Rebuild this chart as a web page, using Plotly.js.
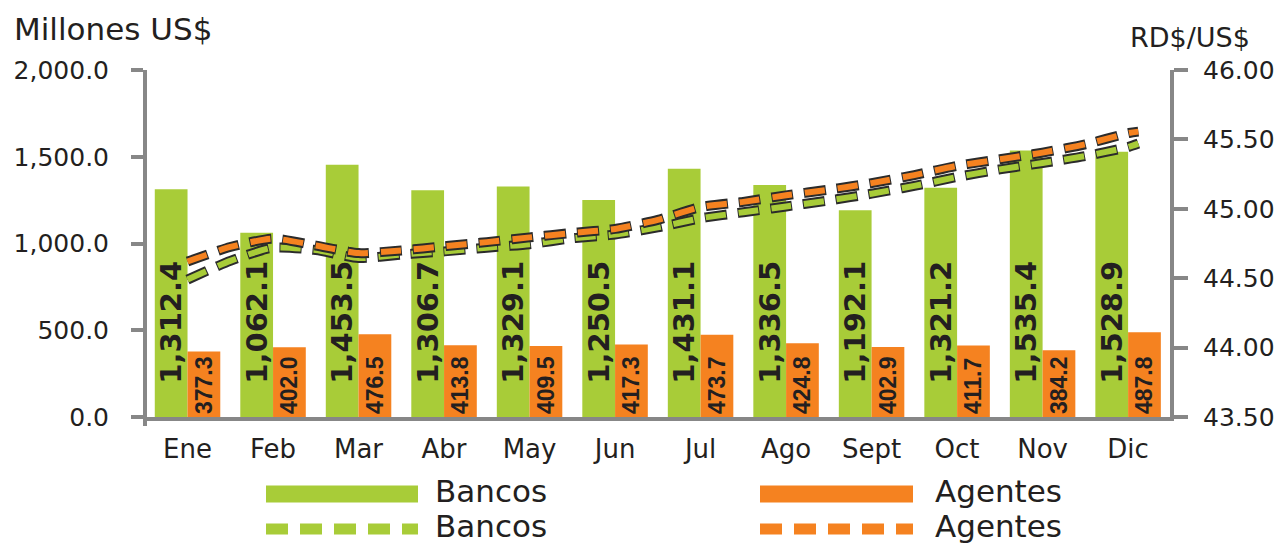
<!DOCTYPE html>
<html>
<head>
<meta charset="utf-8">
<script src="https://cdn.plot.ly/plotly-3.0.1.min.js"></script>
<style>html,body{margin:0;padding:0;background:#fff;}#chart{width:1288px;height:544px;}</style>
</head>
<body>
<div id="chart"></div>
<script>
// ---- data ----
const categories = ['Ene','Feb','Mar','Abr','May','Jun','Jul','Ago','Sept','Oct','Nov','Dic'];
const bancosMonto = [1312.4,1062.1,1453.5,1306.7,1329.1,1250.5,1431.1,1336.5,1192.1,1321.2,1535.4,1528.9];
const agentesMonto = [377.3,402.0,476.5,413.8,409.5,417.3,473.7,424.8,402.9,411.7,384.2,487.8];
// exchange rate (RD$/US$), read at half-month positions along the month axis
const tasaPos = [0,0.5,1,1.5,2,2.5,3,3.5,4,4.5,5,5.5,6,6.5,7,7.5,8,8.5,9,9.5,10,10.5,11,11.12];
const tasaBancos = [44.49,44.625,44.72,44.703,44.645,44.67,44.693,44.72,44.745,44.788,44.815,44.866,44.932,44.975,45.017,45.06,45.109,45.165,45.229,45.284,45.33,45.38,45.445,45.47];
const tasaAgentes = [44.62,44.725,44.785,44.735,44.681,44.70,44.73,44.76,44.794,44.826,44.855,44.92,45.013,45.05,45.097,45.138,45.185,45.243,45.31,45.357,45.405,45.465,45.545,45.556];
const seriesNames = ['Bancos','Agentes'];
const leftTitle = 'Millones US$';
const rightTitle = 'RD$/US$';

// ---- style ----
const GREEN = '#a8cc38', ORANGE = '#f58220', INK = '#231f20', AXIS = '#878787', EDGE = '#2b2b2b';
const FONT = 'DejaVu Sans';
const idx = categories.map((c, i) => i);
const fmt = v => v.toLocaleString('en-US', {minimumFractionDigits: 1, maximumFractionDigits: 1});
const pad = '\u00A0\u00A0\u00A0';

const L = 147, R = 118, T = 70, B = 127, W = 1288, H = 544;
const PW = W - L - R, PH = H - T - B;
const px = x => (x - L) / PW;
const py = y => (T + PH - y) / PH;

const traces = [
  {type:'bar', x: idx, y: bancosMonto, name: seriesNames[0], marker:{color:GREEN},
   text: bancosMonto.map(v => pad + fmt(v)), textposition:'inside', insidetextanchor:'start',
   textangle:-90, constraintext:'none', cliponaxis:false,
   textfont:{family:FONT, size:29, color:INK, weight:'bold'}, hoverinfo:'skip'},
  {type:'bar', x: idx, y: agentesMonto, name: seriesNames[1], marker:{color:ORANGE},
   text: agentesMonto.map(fmt), textposition:'inside', insidetextanchor:'start',
   textangle:-90, constraintext:'none', cliponaxis:false,
   textfont:{family:'Liberation Sans, Arial', size:23, color:INK, weight:'bold'}, hoverinfo:'skip'},
  {type:'scatter', mode:'lines', x: tasaPos, y: tasaBancos, yaxis:'y2', showlegend:false, hoverinfo:'skip',
   line:{color:EDGE, width:10, dash:'21px,11px,1px,0px', shape:'spline', smoothing:0.6}},
  {type:'scatter', mode:'lines', x: tasaPos, y: tasaBancos, yaxis:'y2', name: seriesNames[0], hoverinfo:'skip',
   line:{color:GREEN, width:6, dash:'20px,13px', shape:'spline', smoothing:0.6}},
  {type:'scatter', mode:'lines', x: tasaPos, y: tasaAgentes, yaxis:'y2', showlegend:false, hoverinfo:'skip',
   line:{color:EDGE, width:10, dash:'21px,11px,1px,0px', shape:'spline', smoothing:0.6}},
  {type:'scatter', mode:'lines', x: tasaPos, y: tasaAgentes, yaxis:'y2', name: seriesNames[1], hoverinfo:'skip',
   line:{color:ORANGE, width:6, dash:'20px,13px', shape:'spline', smoothing:0.6}}
];

const axisStyle = {showline:true, linecolor:AXIS, linewidth:4, showgrid:false, zeroline:false,
  ticks:'outside', tickcolor:AXIS, tickwidth:4, tickfont:{family:FONT, size:25, color:INK}};

const legendRows = [
  {y: 491, kind:'bar'}, {y: 526, kind:'dash'}
];
const shapes = [];
const annotations = [];
legendRows.forEach(row => {
  [[266, 418, GREEN, seriesNames[0], 434], [760, 913, ORANGE, seriesNames[1], 934]].forEach(([x0, x1, col, name, tx]) => {
    if (row.kind === 'bar') {
      shapes.push({type:'rect', xref:'paper', yref:'paper', x0:px(x0), x1:px(x1), y0:py(row.y + 11.5), y1:py(row.y - 5.5),
        fillcolor:col, line:{width:0}});
    } else {
      shapes.push({type:'line', xref:'paper', yref:'paper', x0:px(x0), x1:px(x1), y0:py(row.y + 3), y1:py(row.y + 3),
        line:{color:col, width:11, dash:'22px,12px'}});
    }
    annotations.push({xref:'paper', yref:'paper', x:px(tx), y:py(row.y), xanchor:'left', yanchor:'middle',
      text:name, showarrow:false, borderpad:0, font:{family:FONT, size:31, color:INK}});
  });
});
// small stub of the axis frame below the origin
shapes.push({type:'line', xref:'paper', yref:'paper', x0:px(145), x1:px(145), y0:py(417), y1:py(426),
  line:{color:AXIS, width:4}});
annotations.push({xref:'paper', yref:'paper', x:px(12), y:py(29), xanchor:'left', yanchor:'middle',
  text:leftTitle, showarrow:false, font:{family:FONT, size:31, color:INK}});
annotations.push({xref:'paper', yref:'paper', x:px(1128), y:py(37), xanchor:'left', yanchor:'middle',
  text:rightTitle, showarrow:false, font:{family:FONT, size:27, color:INK}});

const layout = {
  width:W, height:H, margin:{l:L, r:R, t:T, b:B, pad:0},
  paper_bgcolor:'#fff', plot_bgcolor:'#fff', showlegend:false,
  barmode:'group', bargap:0.234, bargroupgap:0,
  xaxis:{range:[-0.474, 11.49], tickmode:'array', tickvals: idx, ticktext: categories,
    showline:true, linecolor:AXIS, linewidth:4, ticks:'', showgrid:false, zeroline:false,
    tickfont:{family:FONT, size:26, color:INK}, ticklabelstandoff:6},
  yaxis:Object.assign({}, axisStyle, {range:[0,2000], tick0:0, dtick:500, tickformat:',.1f', ticklen:12, ticklabelstandoff:17}),
  yaxis2:Object.assign({}, axisStyle, {overlaying:'y', side:'right', range:[43.5,46], tick0:43.5, dtick:0.5, tickformat:'.2f', ticklen:14, ticklabelstandoff:10}),
  shapes: shapes, annotations: annotations
};

Plotly.newPlot('chart', traces, layout, {staticPlot:true, displayModeBar:false});
</script>
</body>
</html>
